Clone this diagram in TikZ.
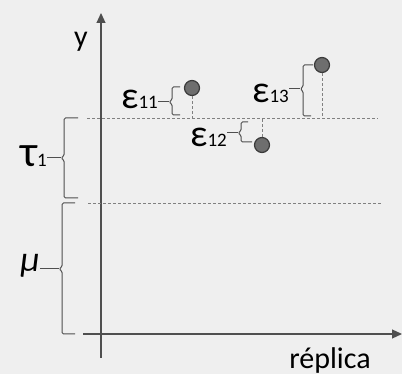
\documentclass[tikz,border=0pt]{standalone}
\usepackage{fontspec}
\setmainfont{Carlito}
\usetikzlibrary{arrows.meta}

\definecolor{bggray}{HTML}{EFEFEF}
\definecolor{axisgray}{HTML}{4F4F4F}
\definecolor{levelgray}{HTML}{808080}
\definecolor{ptfill}{HTML}{6E6E6E}
\definecolor{ptedge}{HTML}{3A3A3A}

\newcommand{\sz}[1]{\fontsize{#1}{#1}\selectfont}
\newcommand{\err}[1]{{\sz{38}ε}{\sz{19}#1}}

\begin{document}
\begin{tikzpicture}[x=1pt,y=-1pt,
  axis/.style={axisgray,line width=1.1pt,-{Triangle[length=10pt,width=9pt]}},
  level/.style={levelgray,line width=0.9pt,dash pattern=on 3pt off 2pt},
  brk/.style={axisgray,line width=1pt,rounded corners=1.5pt},
  pt/.style={circle,draw=ptedge,fill=ptfill,line width=1.2pt,minimum size=15pt,inner sep=0pt},
  lbl/.style={inner sep=0pt,text=black}]
\fill[bggray] (0,0) rectangle (402,374);
\useasboundingbox (0,0) rectangle (402,374);

% axes
\draw[axis] (101,358) -- (101,13);
\draw[axis] (83,334) -- (402,334);
\node[lbl,font=\sz{30}] (ylab) at (81,42) {y};
\node[lbl,font=\sz{30},anchor=base] (xlab) at (330,368) {réplica};

% levels
\coordinate (t1) at (87,118);
\coordinate (t1e) at (378,118);
\coordinate (mu) at (88,203);
\coordinate (mue) at (381,203);
\draw[level] (t1) -- (t1e);
\draw[level] (mu) -- (mue);

% brackets on the left
\coordinate (bt) at (61,158);
\draw[brk] (78,118) -- (64,118) -- (64,156) -- (bt) -- (64,160) -- (64,198) -- (78,198);
\coordinate (bm) at (59,269);
\draw[brk] (75,203) -- (62,203) -- (62,267) -- (bm) -- (62,271) -- (62,334) -- (75,334);
\node[lbl,anchor=east] (tau) at (47,156) {{\sz{44}τ}{\sz{19}1}};
\node[lbl,anchor=east,font=\sz{36}\itshape] (mulab) at (40,266) {μ};
\draw[brk] (tau.east |- bt) -- (bt);
\draw[brk] (mulab.east |- bm) -- (bm);

% observations
\node[pt] (p11) at (192,88) {};
\node[pt] (p12) at (262,145) {};
\node[pt] (p13) at (322,65) {};
\draw[level] (p11) -- (p11 |- t1);
\draw[level] (p12) -- (p12 |- t1);
\draw[level] (p13) -- (p13 |- t1);

% errors
\coordinate (b11) at (169,102);
\draw[brk] (180,87) -- (172,87) -- (172,100) -- (b11) -- (172,104) -- (172,115) -- (180,115);
\node[lbl,anchor=east] (e11) at (158,99) {\err{11}};
\draw[brk] (e11.east |- b11) -- (b11);

\coordinate (b12) at (238,133);
\draw[brk] (248,122) -- (241,122) -- (241,131) -- (b12) -- (241,135) -- (241,142) -- (252,142);
\node[lbl,anchor=east] (e12) at (227,137) {\err{12}};
\draw[brk] (e12.east |- b12) -- (b12);

\coordinate (b13) at (300,89);
\draw[brk] (313,65) -- (303,65) -- (303,87) -- (b13) -- (303,91) -- (303,116) -- (311,116);
\node[lbl,anchor=east] (e13) at (289,93) {\err{13}};
\draw[brk] (e13.east |- b13) -- (b13);
\end{tikzpicture}
\end{document}
